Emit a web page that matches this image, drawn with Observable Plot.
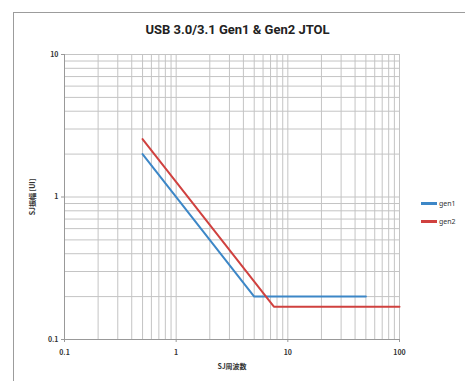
<!DOCTYPE html>
<html><head><meta charset="utf-8">
<script src="https://cdn.jsdelivr.net/npm/d3@7"></script>
<script src="https://cdn.jsdelivr.net/npm/@observablehq/plot@0.6"></script>
<style>
body{margin:0;background:#fff;font-family:"Noto Sans CJK JP","Noto Sans",sans-serif;}
#wrap{position:relative;width:465px;height:381px;overflow:hidden;}
#frame{position:absolute;left:13px;top:12px;width:470px;height:390px;border:1.5px solid #9c9c9c;box-sizing:border-box;}
#title{position:absolute;left:13px;width:449px;top:22px;text-align:center;font:bold 13px Roboto,sans-serif;color:#222;}
.leg{position:absolute;left:421px;font:7px "Noto Sans",sans-serif;color:#333;display:flex;align-items:center;}
.leg i{display:inline-block;width:16px;height:2.5px;margin-right:2px;}
#plot{position:absolute;left:0;top:0;}
</style></head>
<body><div id="wrap"><div id="frame"></div><div id="title">USB 3.0/3.1 Gen1 &amp; Gen2 JTOL</div><div id="plot"></div>
<div class="leg" style="top:199px"><i style="background:#3d87c7"></i>gen1</div>
<div class="leg" style="top:217px"><i style="background:#d0413f"></i>gen2</div>
</div>
<script>
const seriesNames = ["gen1", "gen2"];
const gen1X = [0.5, 5, 50];
const gen1Y = [2, 0.2, 0.2];
const gen2X = [0.5, 7.5, 100];
const gen2Y = [2.55, 0.17, 0.17];
const xTicks = [0.1, 1, 10, 100];
const yTicks = [0.1, 1, 10];
const colors = ["#3d87c7", "#d0413f"];

const data = [];
gen1X.forEach((x, i) => data.push({s: "gen1", x, y: gen1Y[i]}));
gen2X.forEach((x, i) => data.push({s: "gen2", x, y: gen2Y[i]}));

const minor = (decades) => {
  const out = [];
  for (let k = 0; k < decades.length - 1; k++)
    for (let m = 1; m < 10; m++) out.push(decades[k] * m);
  out.push(decades[decades.length - 1]);
  return out;
};
const gx = minor(xTicks), gy = minor(yTicks);

const chart = Plot.plot({
  width: 465, height: 381,
  marginLeft: 64, marginRight: 66, marginTop: 54, marginBottom: 42,
  style: {background: "transparent", fontFamily: "'Noto Sans CJK JP','Noto Sans',sans-serif", fontSize: "7px", color: "#333"},
  x: {type: "log", domain: [0.1, 100]},
  y: {type: "log", domain: [0.1, 10]},
  color: {domain: seriesNames, range: colors},
  marks: [
    Plot.ruleX(gx, {stroke: "#c4c4c4", strokeWidth: 1}),
    Plot.ruleY(gy, {stroke: "#c4c4c4", strokeWidth: 1}),
    Plot.ruleX([0.1], {stroke: "#999"}),
    Plot.ruleY([0.1], {stroke: "#999"}),
    Plot.axisX({ticks: xTicks, tickFormat: d => String(d), tickSize: 3, stroke: "#999", fontWeight: 600, label: "SJ周波数", labelAnchor: "center", labelArrow: "none", labelOffset: 29, tickPadding: 8}),
    Plot.axisY({ticks: yTicks, tickFormat: d => String(d), tickSize: 3, stroke: "#999", fontWeight: 600, label: "SJ振幅 [UI]", labelAnchor: "center", labelArrow: "none", labelOffset: 34, tickPadding: 3}),
    Plot.line(data, {x: "x", y: "y", z: "s", stroke: "s", strokeWidth: 2})
  ]
});
document.getElementById("plot").appendChild(chart);
</script></body></html>
